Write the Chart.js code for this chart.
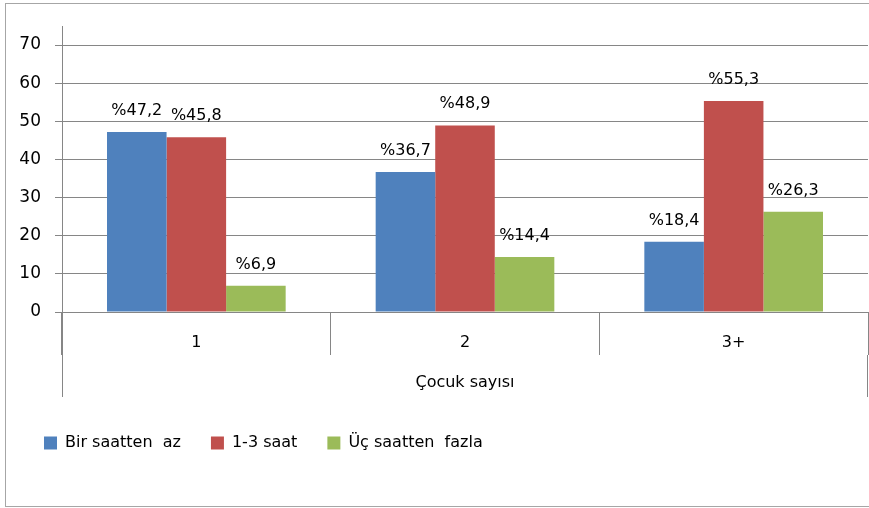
<!DOCTYPE html>
<html>
<head>
<meta charset="utf-8">
<script src="https://cdn.jsdelivr.net/npm/chart.js@4/dist/chart.umd.min.js"></script>
<style>
  body { margin: 0; background: #fff; }
  canvas { display: block; }
</style>
</head>
<body>
<canvas id="chart" width="869" height="508"></canvas>
<script>
// data
const categories = ['1', '2', '3+'];
const birSaattenAz = [47.2, 36.7, 18.4];
const birUcSaat = [45.8, 48.9, 55.3];
const ucSaattenFazla = [6.9, 14.4, 26.3];
const seriesNames = ['Bir saatten  az', '1-3 saat', 'Üç saatten  fazla'];
const yMin = 0, yMax = 70, yStep = 10;

const FONT = 'DejaVu Sans';
const GRID = '#868686';

// value labels above bars, "%47,2" style
const barLabels = {
    id: 'barLabels',
    afterDatasetsDraw(chart) {
        const ctx = chart.ctx;
        ctx.save();
        ctx.font = '16px "' + FONT + '"';
        ctx.fillStyle = '#000';
        ctx.textAlign = 'center';
        ctx.textBaseline = 'alphabetic';
        chart.data.datasets.forEach((ds, i) => {
            chart.getDatasetMeta(i).data.forEach((bar, j) => {
                const txt = '%' + ds.data[j].toFixed(1).replace('.', ',');
                ctx.fillText(txt, bar.x, bar.y - 17);
            });
        });
        ctx.restore();
    }
};

// outer frame and the extra axis lines excel draws
const frame = {
    id: 'frame',
    beforeDraw(chart) {
        const ctx = chart.ctx;
        ctx.save();
        ctx.strokeStyle = '#a6a6a6';
        ctx.lineWidth = 1;
        ctx.strokeRect(5.5, 3.5, 880, 503);
        ctx.restore();
    },
    afterDraw(chart) {
        const a = chart.chartArea;
        const ctx = chart.ctx;
        ctx.save();
        ctx.strokeStyle = GRID;
        ctx.lineWidth = 1;
        ctx.beginPath();
        const lx = Math.round(a.left) + 0.5;
        ctx.moveTo(lx, a.top - 19);
        ctx.lineTo(lx, a.bottom + 85);
        const rx = Math.round(a.right) - 0.5;
        ctx.moveTo(rx, a.bottom + 43);
        ctx.lineTo(rx, a.bottom + 85);
        ctx.stroke();
        ctx.restore();
    }
};

new Chart(document.getElementById('chart').getContext('2d'), {
    type: 'bar',
    data: {
        labels: categories,
        datasets: [
            { label: seriesNames[0], data: birSaattenAz, backgroundColor: '#4F81BD' },
            { label: seriesNames[1], data: birUcSaat, backgroundColor: '#C0504D' },
            { label: seriesNames[2], data: ucSaattenFazla, backgroundColor: '#9BBB59' }
        ]
    },
    options: {
        responsive: false,
        animation: false,
        categoryPercentage: 0.665,
        barPercentage: 1,
        layout: { padding: { top: 45, right: 1, left: 14, bottom: 47 } },
        plugins: {
            tooltip: { enabled: false },
            legend: {
                position: 'bottom',
                align: 'start',
                labels: {
                    font: { family: FONT, size: 16 },
                    color: '#000',
                    boxWidth: 13,
                    boxHeight: 13,
                    padding: 30
                }
            }
        },
        scales: {
            x: {
                grid: {
                    display: true,
                    drawOnChartArea: false,
                    offset: true,
                    tickLength: 43,
                    color: GRID
                },
                border: { display: true, color: GRID },
                ticks: {
                    font: { family: FONT, size: 16 },
                    color: '#000',
                    padding: -22
                },
                title: {
                    display: true,
                    text: 'Çocuk sayısı',
                    font: { family: FONT, size: 16 },
                    color: '#000',
                    padding: { top: 13, bottom: 13 }
                },
                afterFit(scale) { scale.height = 93; }
            },
            y: {
                min: yMin,
                max: yMax,
                ticks: {
                    stepSize: yStep,
                    font: { family: FONT, size: 17 },
                    color: '#000',
                    padding: 14
                },
                grid: { color: GRID, tickLength: 7 },
                border: { display: false },
                afterFit(scale) { scale.width = 48; }
            }
        }
    },
    plugins: [frame, barLabels]
});
</script>
</body>
</html>
